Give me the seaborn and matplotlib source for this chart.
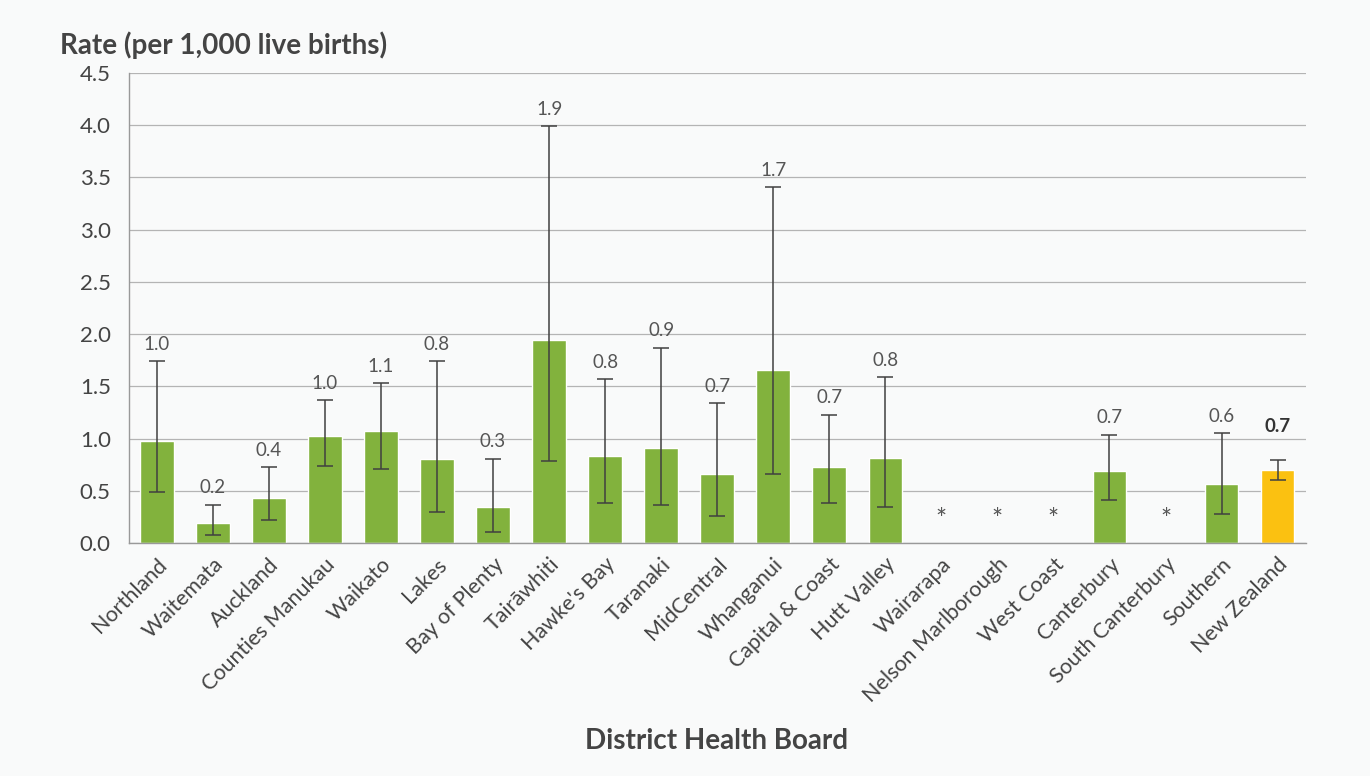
import numpy as np
import pandas as pd
import matplotlib.pyplot as plt
import seaborn as sns

# data
boards = ["Northland", "Waitemata", "Auckland", "Counties Manukau", "Waikato", "Lakes",
          "Bay of Plenty", "Tairāwhiti", "Hawke's Bay", "Taranaki", "MidCentral", "Whanganui",
          "Capital & Coast", "Hutt Valley", "Wairarapa", "Nelson Marlborough", "West Coast",
          "Canterbury", "South Canterbury", "Southern", "New Zealand"]
rate = [0.98, 0.19, 0.43, 1.03, 1.07, 0.81, 0.35, 1.94, 0.83, 0.91, 0.66, 1.66,
        0.73, 0.82, np.nan, np.nan, np.nan, 0.69, np.nan, 0.57, 0.70]
ci_low = [0.49, 0.08, 0.22, 0.74, 0.71, 0.30, 0.11, 0.79, 0.38, 0.37, 0.26, 0.66,
          0.38, 0.35, np.nan, np.nan, np.nan, 0.41, np.nan, 0.28, 0.60]
ci_high = [1.74, 0.37, 0.73, 1.37, 1.53, 1.74, 0.81, 3.99, 1.57, 1.87, 1.34, 3.41,
           1.23, 1.59, np.nan, np.nan, np.nan, 1.04, np.nan, 1.05, 0.80]
labels = ["1.0", "0.2", "0.4", "1.0", "1.1", "0.8", "0.3", "1.9", "0.8", "0.9", "0.7", "1.7",
          "0.7", "0.8", "*", "*", "*", "0.7", "*", "0.6", "0.7"]

df = pd.DataFrame({"board": boards, "rate": rate, "lo": ci_low, "hi": ci_high, "label": labels})
df["group"] = np.where(df["board"] == "New Zealand", "nz", "dhb")

sns.set_style("white")
plt.rcParams["font.family"] = ["Lato", "DejaVu Sans"]

bg = "#f9fafa"
fig = plt.figure(figsize=(13.7, 7.76), dpi=100, facecolor=bg)
ax = fig.add_axes([0.094, 0.300, 0.859, 0.606])
ax.set_facecolor(bg)

sns.barplot(data=df, x="board", y="rate", hue="group", order=boards,
            palette={"dhb": "#82b23d", "nz": "#fbc111"}, width=0.6, saturation=1,
            dodge=False, legend=False, errorbar=None, ax=ax, zorder=2)

# confidence intervals
pos = np.arange(len(boards))
ok = df["rate"].notna().values
ax.errorbar(pos[ok], df["rate"][ok],
            yerr=[df["rate"][ok] - df["lo"][ok], df["hi"][ok] - df["rate"][ok]],
            fmt="none", ecolor="#404040", elinewidth=1.1, capsize=6, capthick=1.1, zorder=3)

for i, row in df.iterrows():
    if row["label"] == "*":
        ax.text(i, 0.22, "*", ha="center", va="center", fontsize=19, color="#555555")
    else:
        bold = row["board"] == "New Zealand"
        top = row["hi"] + (0.2 if bold else 0.04)
        ax.annotate(row["label"], (i, top), xytext=(0, 3), textcoords="offset points",
                    ha="center", va="bottom", fontsize=13.5,
                    color="#333333" if bold else "#555555",
                    fontweight="bold" if bold else "normal")

ax.set_ylim(0, 4.5)
ax.set_xlim(-0.5, len(boards) - 0.5)
ax.set_yticks(np.arange(0, 4.51, 0.5))
ax.set_yticklabels([f"{v:.1f}" for v in np.arange(0, 4.51, 0.5)])
ax.yaxis.grid(True, color="#b4b4b4", linewidth=0.9, zorder=0)
ax.set_axisbelow(True)

ax.set_xticks(pos)
ax.set_xticklabels(boards, rotation=45, ha="right", rotation_mode="anchor")
ax.set_xticks(np.arange(-0.5, len(boards)), minor=True)
ax.tick_params(axis="x", which="major", length=0, labelsize=15.5, colors="#444444", pad=8)
ax.tick_params(axis="x", which="minor", length=7, color="#999999", direction="out")
ax.tick_params(axis="y", length=6, color="#999999", labelsize=16, labelcolor="#444444", pad=7)

for side in ["top", "right"]:
    ax.spines[side].set_visible(False)
for side in ["left", "bottom"]:
    ax.spines[side].set_color("#999999")
    ax.spines[side].set_linewidth(1.0)

ax.set_xlabel("")
ax.set_ylabel("")
fig.text(0.044, 0.942, "Rate (per 1,000 live births)", fontsize=20, fontweight="bold",
         color="#444444", ha="left", va="center")
fig.text(0.523, 0.045, "District Health Board", fontsize=20, fontweight="bold",
         color="#444444", ha="center", va="center")

fig.savefig("out.png", dpi=100, facecolor=bg)
